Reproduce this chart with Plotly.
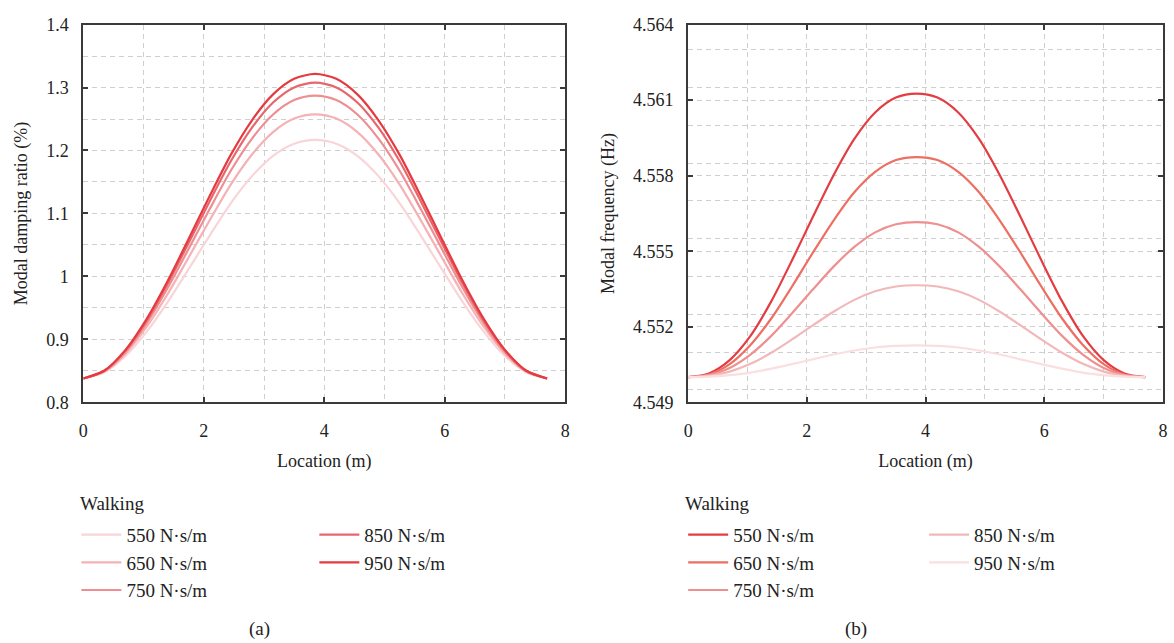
import plotly.graph_objects as go

# ---------------- data ----------------
location = [0.0, 0.35, 0.7, 1.05, 1.4, 1.75, 2.1, 2.45, 2.8, 3.15, 3.5, 3.85,
            4.2, 4.55, 4.9, 5.25, 5.6, 5.95, 6.3, 6.65, 7.0, 7.35, 7.7]
damping_labels = ["550 N·s/m", "650 N·s/m", "750 N·s/m", "850 N·s/m", "950 N·s/m"]

# (a) modal damping ratio (%)
damp_550 = [0.838, 0.8479, 0.8736, 0.9119, 0.9593, 1.0119, 1.0653, 1.1165, 1.1593, 1.1915, 1.2108, 1.2169,
            1.2108, 1.1915, 1.1593, 1.1165, 1.0653, 1.0119, 0.9593, 0.9119, 0.8736, 0.8479, 0.838]
damp_650 = [0.838, 0.8489, 0.8774, 0.9198, 0.9722, 1.0305, 1.0896, 1.1463, 1.1937, 1.2293, 1.2507, 1.2574,
            1.2507, 1.2293, 1.1937, 1.1463, 1.0896, 1.0305, 0.9722, 0.9198, 0.8774, 0.8489, 0.838]
damp_750 = [0.838, 0.8497, 0.8802, 0.9256, 0.9817, 1.0442, 1.1075, 1.1682, 1.2189, 1.2571, 1.2800, 1.2872,
            1.2800, 1.2571, 1.2189, 1.1682, 1.1075, 1.0442, 0.9817, 0.9256, 0.8802, 0.8497, 0.838]
damp_850 = [0.838, 0.8502, 0.8822, 0.9296, 0.9883, 1.0536, 1.1198, 1.1832, 1.2363, 1.2762, 1.3002, 1.3077,
            1.3002, 1.2762, 1.2363, 1.1832, 1.1198, 1.0536, 0.9883, 0.9296, 0.8822, 0.8502, 0.838]
damp_950 = [0.838, 0.8506, 0.8834, 0.9323, 0.9927, 1.0599, 1.1281, 1.1934, 1.2480, 1.2891, 1.3138, 1.3215,
            1.3138, 1.2891, 1.2480, 1.1934, 1.1281, 1.0599, 0.9927, 0.9323, 0.8834, 0.8506, 0.838]

# (b) modal frequency (Hz)
freq_550 = [4.55000, 4.55015, 4.55068, 4.55164, 4.55301, 4.55464, 4.55636, 4.55802, 4.55946, 4.56051, 4.56110, 4.56126,
            4.56110, 4.56051, 4.55946, 4.55802, 4.55636, 4.55464, 4.55301, 4.55164, 4.55068, 4.55015, 4.55000]
freq_650 = [4.55000, 4.55011, 4.55052, 4.55128, 4.55233, 4.55360, 4.55494, 4.55622, 4.55734, 4.55815, 4.55862, 4.55874,
            4.55862, 4.55815, 4.55734, 4.55622, 4.55494, 4.55360, 4.55233, 4.55128, 4.55052, 4.55011, 4.55000]
freq_750 = [4.55000, 4.55008, 4.55037, 4.55090, 4.55164, 4.55254, 4.55348, 4.55439, 4.55517, 4.55575, 4.55607, 4.55616,
            4.55607, 4.55575, 4.55517, 4.55439, 4.55348, 4.55254, 4.55164, 4.55090, 4.55037, 4.55008, 4.55000]
freq_850 = [4.55000, 4.55005, 4.55022, 4.55053, 4.55097, 4.55150, 4.55206, 4.55260, 4.55307, 4.55341, 4.55360, 4.55365,
            4.55360, 4.55341, 4.55307, 4.55260, 4.55206, 4.55150, 4.55097, 4.55053, 4.55022, 4.55005, 4.55000]
freq_950 = [4.55000, 4.55002, 4.55008, 4.55018, 4.55034, 4.55052, 4.55071, 4.55090, 4.55106, 4.55118, 4.55124, 4.55126,
            4.55124, 4.55118, 4.55106, 4.55090, 4.55071, 4.55052, 4.55034, 4.55018, 4.55008, 4.55002, 4.55000]

damp_series = [damp_550, damp_650, damp_750, damp_850, damp_950]
freq_series = [freq_550, freq_650, freq_750, freq_850, freq_950]

damp_colors = ["#f8d5d8", "#f4b2b5", "#ee8e92", "#e8666b", "#e43a40"]
freq_colors = ["#e33c41", "#ec6f62", "#ee8f90", "#f2b8b9", "#fadfe0"]

FONT = "Liberation Serif"
TXT = "#222222"

fig = go.Figure()

for i, (lab, ys, col) in enumerate(zip(damping_labels, damp_series, damp_colors)):
    fig.add_trace(go.Scatter(
        x=location, y=ys, mode="lines", name=lab,
        line=dict(color=col, width=2.2, shape="spline", smoothing=0.8),
        xaxis="x", yaxis="y",
        legend="legend" if i < 3 else "legend2",
        legendgroup="a%d" % i,
    ))

for i, (lab, ys, col) in enumerate(zip(damping_labels, freq_series, freq_colors)):
    fig.add_trace(go.Scatter(
        x=location, y=ys, mode="lines", name=lab,
        line=dict(color=col, width=2.2, shape="spline", smoothing=0.8),
        xaxis="x2", yaxis="y2",
        legend="legend3" if i < 3 else "legend4",
        legendgroup="b%d" % i,
    ))

GRID = "#cfcfcf"
DASH = "5px,4px"
axis_common = dict(
    showline=True, linecolor="#3a3a3a", linewidth=2, mirror="ticks",
    ticks="inside", ticklen=5, tickwidth=2, tickcolor="#3a3a3a",
    showgrid=True, gridcolor=GRID, griddash=DASH, gridwidth=1,
    zeroline=False,
    tickfont=dict(family=FONT, size=18, color=TXT),
    title_font=dict(family=FONT, size=18, color=TXT),
)
minor_grid = dict(showgrid=True, gridcolor=GRID, griddash=DASH)

x_dom_a = [79 / 1174, 565 / 1174]
x_dom_b = [689 / 1174, 1168 / 1174]
y_dom = [1 - 405 / 643, 1 - 15 / 643]

leg_common = dict(
    font=dict(family=FONT, size=19, color=TXT),
    bgcolor="rgba(0,0,0,0)", xanchor="left", yanchor="top",
    tracegroupgap=0, traceorder="grouped", itemwidth=40,
)
LEG_TOP = 1 - 522 / 643

fig.update_layout(
    width=1174, height=643,
    margin=dict(l=0, r=0, t=0, b=0),
    paper_bgcolor="white", plot_bgcolor="white",
    xaxis=dict(domain=x_dom_a, range=[0, 8], dtick=2, tick0=0, minor=dict(dtick=1, **minor_grid),
               ticklabelstandoff=11,
               title=dict(text="Location (m)", standoff=14), anchor="y", **axis_common),
    yaxis=dict(domain=y_dom, range=[0.8, 1.4], dtick=0.1, tick0=0.8, minor=dict(dtick=0.05, **minor_grid),
               ticklabelstandoff=9,
               title=dict(text="Modal damping ratio (%)", standoff=14), anchor="x", **axis_common),
    xaxis2=dict(domain=x_dom_b, range=[0, 8], dtick=2, tick0=0, minor=dict(dtick=1, **minor_grid),
                ticklabelstandoff=11,
                title=dict(text="Location (m)", standoff=14), anchor="y2", **axis_common),
    yaxis2=dict(domain=y_dom, range=[4.549, 4.564], dtick=0.003, tick0=4.549, tickformat=".3f",
                minor=dict(dtick=0.0015, **minor_grid), ticklabelstandoff=9,
                title=dict(text="Modal frequency (Hz)", standoff=14), anchor="x2", **axis_common),
    legend=dict(x=72 / 1174, y=LEG_TOP, **leg_common),
    legend2=dict(x=312 / 1174, y=LEG_TOP, **leg_common),
    legend3=dict(x=684 / 1174, y=LEG_TOP, **leg_common),
    legend4=dict(x=927 / 1174, y=LEG_TOP, **leg_common),
    annotations=[
        dict(text="Walking", x=74 / 1174, y=1 - 509 / 643, xref="paper", yref="paper",
             xanchor="left", yanchor="middle", showarrow=False, font=dict(family=FONT, size=19, color=TXT)),
        dict(text="Walking", x=684 / 1174, y=1 - 509 / 643, xref="paper", yref="paper",
             xanchor="left", yanchor="middle", showarrow=False, font=dict(family=FONT, size=19, color=TXT)),
        dict(text="(a)", x=257 / 1174, y=1 - 639 / 643, xref="paper", yref="paper",
             xanchor="center", yanchor="middle", showarrow=False, font=dict(family=FONT, size=19, color=TXT)),
        dict(text="(b)", x=858 / 1174, y=1 - 639 / 643, xref="paper", yref="paper",
             xanchor="center", yanchor="middle", showarrow=False, font=dict(family=FONT, size=19, color=TXT)),
    ],
)

fig.write_html("out.html")
